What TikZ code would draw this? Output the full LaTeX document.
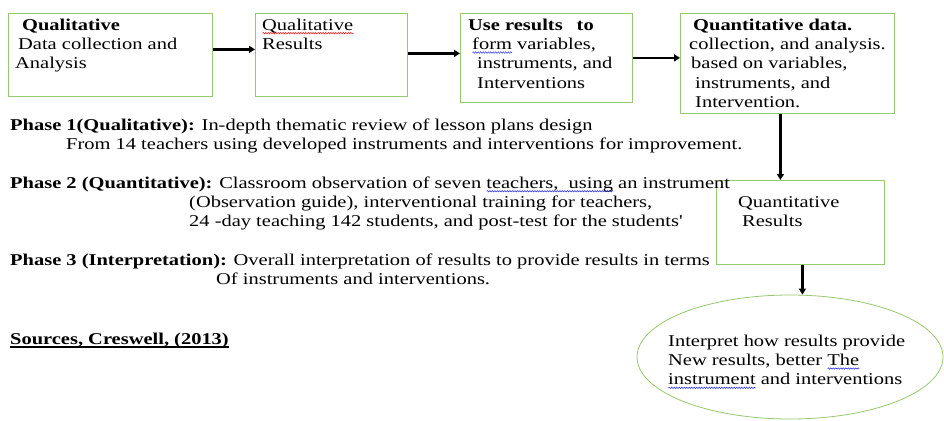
\documentclass[tikz,border=0pt]{standalone}
\usepackage{fontspec}
\setmainfont[FakeStretch=1.24]{Liberation Serif}
\usetikzlibrary{arrows.meta,shapes.geometric,decorations.pathmorphing}

\definecolor{boxgreen}{RGB}{150,200,110}
\definecolor{spellblue}{RGB}{40,40,230}

\newsavebox\wordbox
\newcommand\thickunder[1]{\sbox\wordbox{#1}\rlap{\rule[-3.5pt]{\wd\wordbox}{1.3pt}}\usebox\wordbox}
\newcommand\spellmark[2]{\sbox\wordbox{#2}\rlap{\raisebox{-3pt}{\tikz[baseline]\draw[#1, line width=0.5pt, decorate, decoration={snake, amplitude=0.7pt, segment length=2.5pt}] (0pt,0pt) -- (\wd\wordbox,0pt);}}\usebox\wordbox}

\tikzset{
  stage/.style={draw=boxgreen, line width=0.8pt, anchor=north west, inner sep=0pt},
  words/.style={anchor=north west, inner sep=0pt, align=left, font=\fontsize{16.5}{19.3}\selectfont},
  flow/.style={line width=2.6pt, -{Triangle[length=6pt,width=7pt]}}
}

\begin{document}
\begin{tikzpicture}[x=1pt,y=-1pt]
\useasboundingbox (0,0) rectangle (944,420);

\node[stage, minimum width=204pt, minimum height=83pt] (q1) at (8,13) {};
\node[stage, minimum width=152pt, minimum height=83pt] (q2) at (255,13) {};
\node[stage, minimum width=172pt, minimum height=89pt] (q3) at (460,13) {};
\node[stage, minimum width=214pt, minimum height=100pt] (q4) at (680,13) {};
\node[stage, minimum width=168pt, minimum height=84pt] (q5) at (716,180) {};
\node[draw=boxgreen, line width=0.8pt, ellipse, minimum width=306pt, minimum height=124pt] (interp) at (790,357) {};

\node[words] (q1text) at (15,16.5) {\strut\hspace*{7pt}\textbf{Qualitative}\\
  \hspace*{3pt}Data collection and\\
  Analysis};
\node[words] (q2text) at (262,16.5) {\strut\spellmark{red}{Qualitative}\\Results};
\node[words] (q3text) at (468,16.5) {\strut\textbf{Use results\hspace{14pt}to}\\
  \hspace*{4pt}\spellmark{spellblue}{form} variables,\\
  \hspace*{9pt}instruments, and\\
  \hspace*{9pt}Interventions};
\node[words] (q4text) at (689,16.5) {\strut\hspace*{4pt}\textbf{Quantitative data.}\\
  collection, and analysis.\\
  \hspace*{2pt}based on variables,\\
  \hspace*{6pt}instruments, and\\
  \hspace*{6pt}Intervention.};
\node[words] (q5text) at (738,193.5) {\strut Quantitative\\\hspace*{4pt}Results};
\node[words] (interptext) at (668,332.5) {\strut Interpret how results provide\\
  New results, better \spellmark{spellblue}{The}\\
  \spellmark{spellblue}{instrument} and interventions};

\node[words] (phase1) at (10,116.5) {\strut\textbf{Phase 1(Qualitative):} In-depth thematic review of lesson plans design\\
  \hspace*{56pt}From 14 teachers using developed instruments and interventions for improvement.};
\node[words] (phase2) at (10,174.5) {\strut\textbf{Phase 2 (Quantitative):} Classroom observation of seven \spellmark{spellblue}{teachers,\ \ using} an instrument\\
  \hspace*{179pt}(Observation guide), interventional training for teachers,\\
  \hspace*{179pt}24 -day teaching 142 students, and post-test for the students\textquotesingle};
\node[words] (phase3) at (10,251.5) {\strut\textbf{Phase 3 (Interpretation):} Overall interpretation of results to provide results in terms\\
  \hspace*{206pt}Of instruments and interventions.};
\node[words] (source) at (10,330.5) {\strut\thickunder{\textbf{Sources, Creswell, (2013)}}};

\draw[flow] ([yshift=5.5pt]q1.east) -- ([yshift=5.5pt]q2.west);
\draw[flow] ([yshift=1.5pt]q2.east) -- ([yshift=1.5pt]q2.east -| q3.west);
\draw[flow] (q3.east) -- (q3.east -| q4.west);
\draw[flow] ([xshift=-7pt]q4.south) -- ([xshift=-7pt]q4.south |- q5.north);
\draw[flow] ([xshift=2pt]q5.south) -- ([xshift=2pt]q5.south |- interp.north);

\end{tikzpicture}
\end{document}
